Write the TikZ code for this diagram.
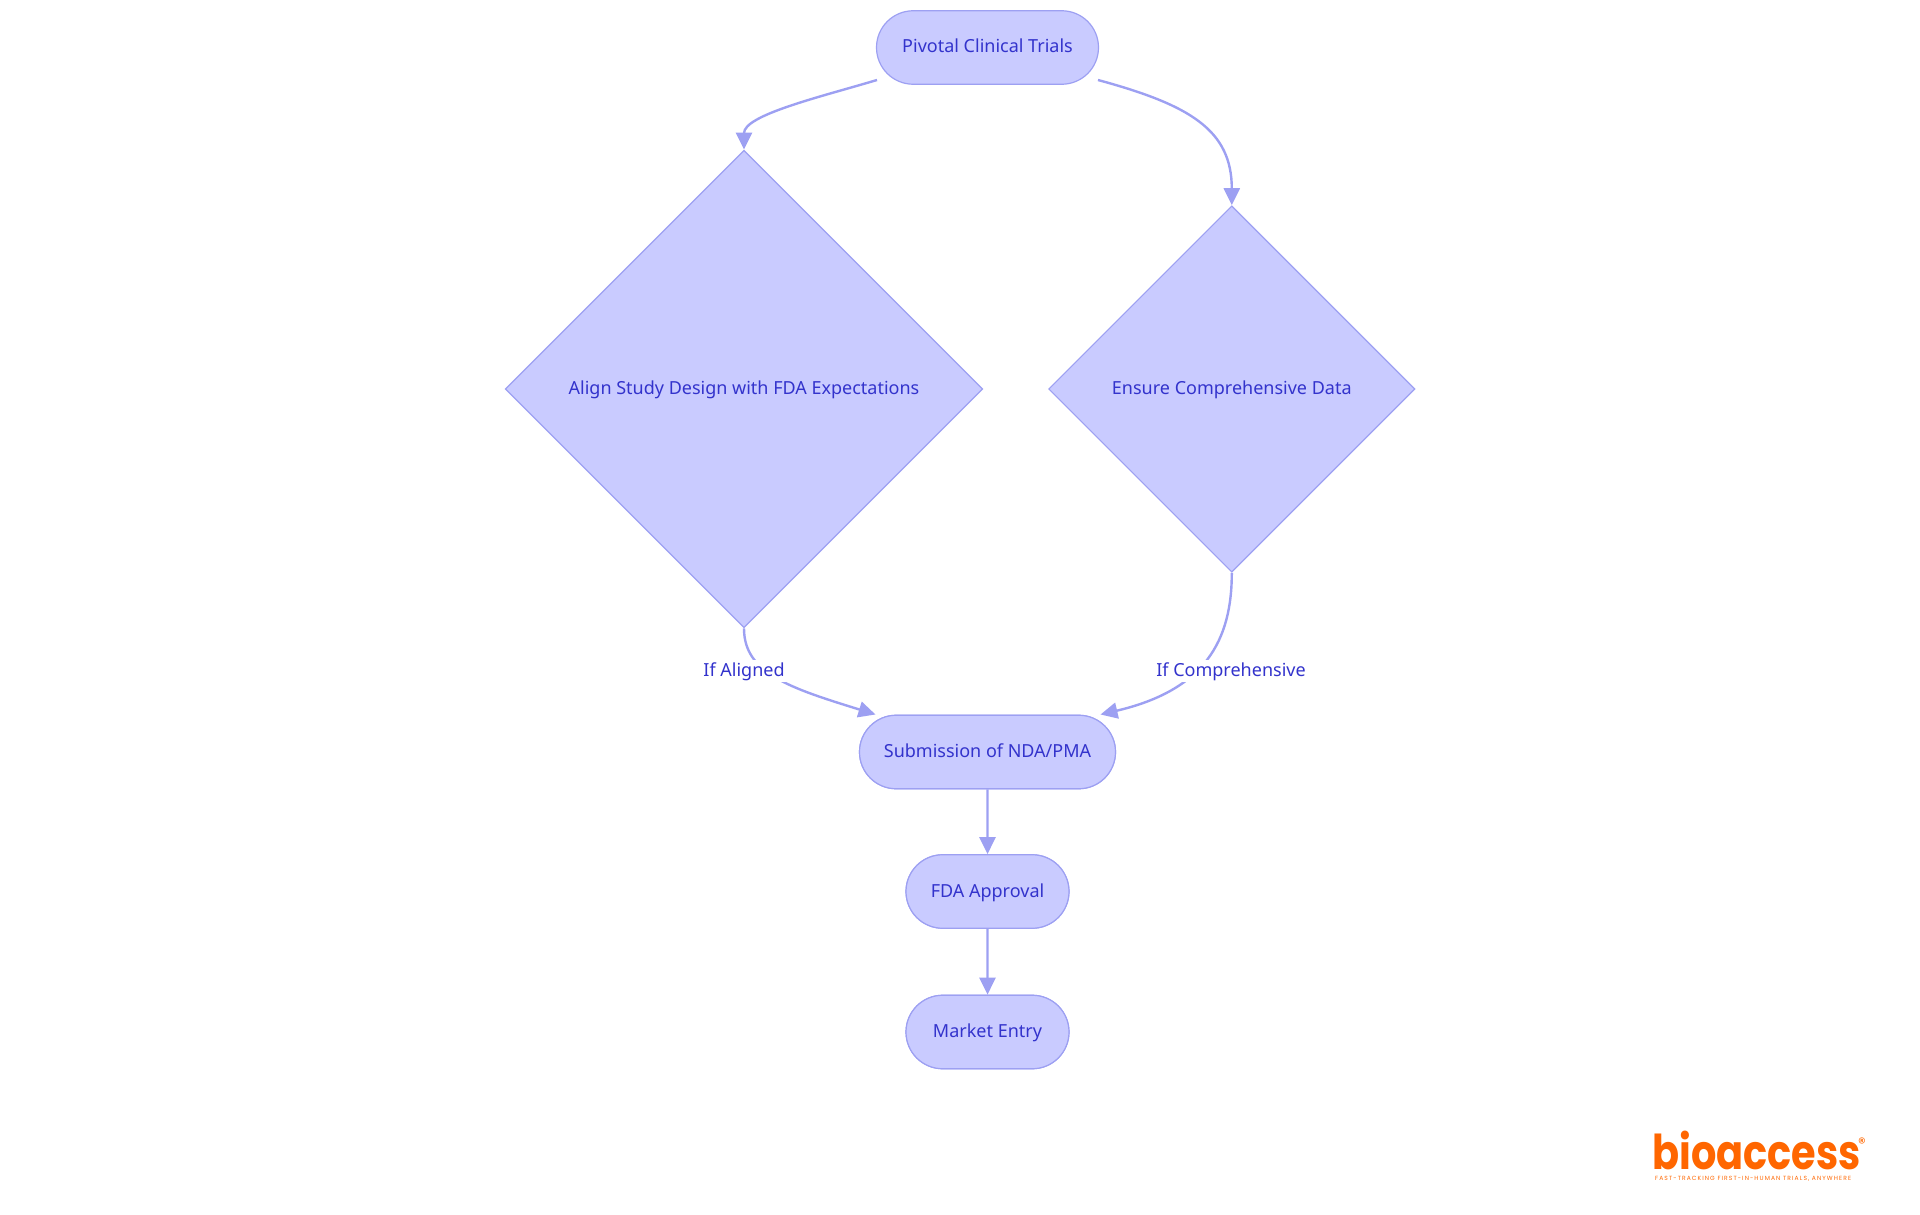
\documentclass[tikz,border=0pt]{standalone}
\usepackage{fontspec}
\usepackage{graphicx}
\setmainfont{Noto Sans}
\newfontfamily\logofont{Poppins}[BoldFont={Poppins Bold}]
\usetikzlibrary{shapes.geometric,shapes.misc,arrows.meta,calc}
\definecolor{nodefill}{HTML}{C9CBFF}
\definecolor{nodeline}{HTML}{9DA0F2}
\definecolor{nodetext}{HTML}{3333CC}
\definecolor{logoorange}{HTML}{FF6600}
\tikzset{
  x=1pt,y=-1pt,
  base/.style={fill=nodefill,draw=nodeline,line width=1.2pt,text=nodetext,font=\fontsize{18}{23}\selectfont,inner sep=0pt,text height=15pt,text depth=4pt},
  pill/.style={base,rounded rectangle,rounded rectangle arc length=180,minimum height=73.5pt},
  decision/.style={base,diamond,aspect=1},
  conn/.style={draw=nodeline,line width=2.4pt,-{Triangle[length=17pt,width=16pt]}},
  edgelabel/.style={fill=white,text=nodetext,font=\fontsize{18}{23}\selectfont,inner sep=1.5pt,text height=15pt,text depth=4pt}
}
\begin{document}
\begin{tikzpicture}
\useasboundingbox (0,0) rectangle (1920,1215);
\node[pill,minimum width=222pt] (pivotal) at (987.5,47.5) {Pivotal Clinical Trials};
\node[decision,minimum width=477.6pt,minimum height=477.6pt] (align) at (744,389) {Align Study Design with FDA Expectations};
\node[decision,minimum width=366.4pt,minimum height=366.4pt] (ensure) at (1231.8,389) {Ensure Comprehensive Data};
\node[pill,minimum width=256pt] (submit) at (987.5,752) {Submission of NDA/PMA};
\node[pill,minimum width=163pt] (fda) at (987.5,891.5) {FDA Approval};
\node[pill,minimum width=163pt] (market) at (987.5,1032) {Market Entry};
\coordinate (pivotalL) at ($(pivotal.center)+(-110.5,32.5)$);
\coordinate (pivotalR) at ($(pivotal.center)+(110.5,32.5)$);
\coordinate (submitL) at ($(submit.center)+(-112,-37.5)$);
\coordinate (submitR) at ($(submit.center)+(113,-37.5)$);
\draw[conn] (pivotalL) .. controls +(-57,17) and (744,115) .. (align.north);
\draw[conn] (pivotalR) .. controls +(92,25) and (1231.8,130) .. (ensure.north);
\draw[conn] (align.south) .. controls +(0,45) and (790,688) .. (submitL);
\draw[conn] (ensure.south) .. controls +(0,68) and (1205,690) .. (submitR);
\draw[conn] (submit) -- (fda);
\draw[conn] (fda) -- (market);
\node[pill,minimum width=256pt] at (submit) {Submission of NDA/PMA};
\node[pill,minimum width=163pt] at (fda) {FDA Approval};
\node[pill,minimum width=163pt] at (market) {Market Entry};
\node[edgelabel] (lblA) at (744,671) {If Aligned};
\node[edgelabel] (lblC) at (1231,671) {If Comprehensive};
\node[text=logoorange,anchor=west,inner sep=0pt,font=\logofont\bfseries\fontsize{48}{50}\selectfont] (logo) at (1652,1150) {\scalebox{0.83}[1]{bioaccess}};
\node[text=logoorange,inner sep=0pt,font=\logofont\fontsize{15}{16}\selectfont] (reg) at (1862,1143) {®};
\node[text=logoorange,anchor=west,inner sep=0pt,font=\logofont\fontsize{6}{7}\selectfont\addfontfeatures{LetterSpace=18}] (tag) at (1655,1178.5) {FAST-TRACKING FIRST-IN-HUMAN TRIALS, ANYWHERE};
\end{tikzpicture}
\end{document}
